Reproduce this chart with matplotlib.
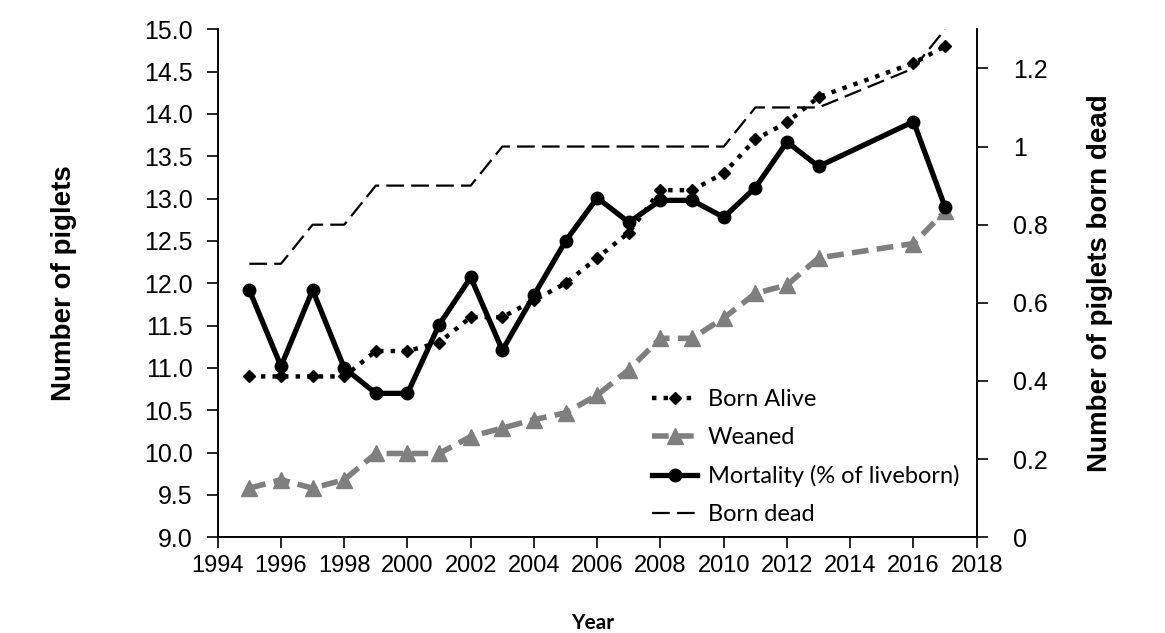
import matplotlib.pyplot as plt
from matplotlib.lines import Line2D

plt.rcParams['font.family'] = ['Liberation Sans', 'DejaVu Sans']

# Data
years = [1995, 1996, 1997, 1998, 1999, 2000, 2001, 2002, 2003, 2004, 2005,
         2006, 2007, 2008, 2009, 2010, 2011, 2012, 2013, 2016, 2017]
born_alive = [10.9, 10.9, 10.9, 10.9, 11.2, 11.2, 11.3, 11.6, 11.6, 11.8, 12.0,
              12.3, 12.6, 13.1, 13.1, 13.3, 13.7, 13.9, 14.2, 14.6, 14.8]
weaned = [9.58, 9.68, 9.58, 9.68, 9.99, 9.99, 9.99, 10.19, 10.29, 10.39, 10.47,
          10.68, 10.98, 11.35, 11.35, 11.59, 11.88, 11.98, 12.3, 12.47, 12.85]
mortality = [11.92, 11.02, 11.92, 11.0, 10.7, 10.7, 11.51, 12.07, 11.21, 11.86, 12.5,
             13.01, 12.72, 12.98, 12.98, 12.78, 13.13, 13.67, 13.38, 13.91, 12.9]
born_dead = [0.7, 0.7, 0.8, 0.8, 0.9, 0.9, 0.9, 0.9, 1.0, 1.0, 1.0,
             1.0, 1.0, 1.0, 1.0, 1.0, 1.1, 1.1, 1.1, 1.2, 1.3]

left_ticks = [9.0, 9.5, 10.0, 10.5, 11.0, 11.5, 12.0, 12.5, 13.0, 13.5, 14.0, 14.5, 15.0]
right_ticks = [0, 0.2, 0.4, 0.6, 0.8, 1, 1.2]
right_labels = ['0', '0.2', '0.4', '0.6', '0.8', '1', '1.2']
x_ticks = list(range(1994, 2019, 2))

gray = '#7f7f7f'
ba_style = dict(color='black', linestyle=(0, (1, 1.6)), linewidth=3.2, marker='D', markersize=6)
we_style = dict(color=gray, linestyle=(0, (3, 1.5)), linewidth=4, marker='^', markersize=12)
mo_style = dict(color='black', linestyle='-', linewidth=3.8, marker='o', markersize=9)
bd_style = dict(color='black', linestyle=(0, (8, 3.2)), linewidth=1.6)

fig = plt.figure(figsize=(11.65, 6.33), dpi=100)
ax = fig.add_axes([0.1869, 0.1512, 0.6515, 0.8025])
ax2 = ax.twinx()

ax.plot(years, born_alive, zorder=3, **ba_style)
ax.plot(years, weaned, zorder=3, **we_style)
ax.plot(years, mortality, zorder=4, **mo_style)
ax2.plot(years, born_dead, **bd_style)

ax.set_xlim(1994, 2018)
ax.set_ylim(9.0, 15.0)
ax2.set_ylim(0, 1.3)
ax.set_xticks(x_ticks)
ax.set_yticks(left_ticks)
ax.set_yticklabels([f'{v:.1f}' for v in left_ticks])
ax2.set_yticks(right_ticks)
ax2.set_yticklabels(right_labels)

for a in (ax, ax2):
    a.spines['top'].set_visible(False)
    for s in a.spines.values():
        s.set_linewidth(1.2)
ax.tick_params(axis='x', direction='out', length=8, width=1.2, labelsize=17, pad=5)
ax.tick_params(axis='y', direction='out', length=8, width=1.2, labelsize=18, pad=10)
ax2.tick_params(axis='y', direction='out', length=8, width=1.2, labelsize=18, pad=18)

ax.set_ylabel('Number of piglets', fontsize=20, fontweight='bold', labelpad=48)
ax2.set_ylabel('Number of piglets born dead', fontsize=20, fontweight='bold', labelpad=28)
fig.text(0.509, 0.0, 'Year', fontsize=15, fontweight='bold', ha='center', va='bottom',
         family=['Lato', 'DejaVu Sans'])

handles = [Line2D([], [], **ba_style), Line2D([], [], **we_style),
           Line2D([], [], **mo_style), Line2D([], [], **bd_style)]
labels = ['Born Alive', 'Weaned', 'Mortality (% of liveborn)', 'Born dead']
ax2.legend(handles, labels, loc='lower left', bbox_to_anchor=(0.56, 0.005), borderaxespad=0,
           frameon=False, prop={'family': ['Lato', 'DejaVu Sans'], 'size': 17},
           handlelength=1.9, handletextpad=0.45, labelspacing=0.72)

fig.savefig('out.png', dpi=100)
